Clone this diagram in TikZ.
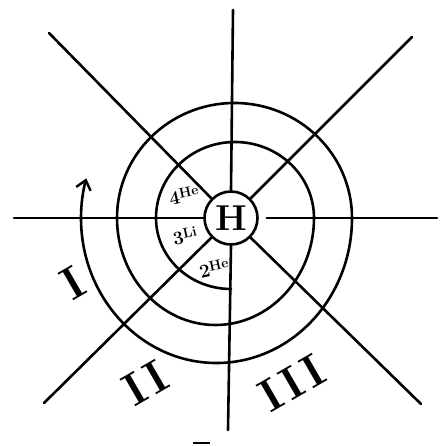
\documentclass[tikz,border=0pt]{standalone}
\usepackage{tikz}
\usetikzlibrary{arrows.meta}
\newcommand{\elsym}[2]{#1\raisebox{5pt}{\fontsize{14}{14}\selectfont #2}}
\tikzset{
  ln/.style   ={line width=2.6pt, line cap=round},
  spir/.style ={ln, -{Straight Barb[length=9pt,width=15pt,line width=2.4pt]}},
  elm/.style  ={font=\fontsize{19}{19}\selectfont\bfseries, inner sep=1pt, rotate=12},
  rom/.style  ={font=\fontsize{46}{46}\selectfont\bfseries, rotate=30, inner sep=0pt},
}

\begin{document}
\begin{tikzpicture}[x=1pt,y=1pt]
\useasboundingbox (-231,-228) rectangle (210,218);
\node[draw, ln, circle, minimum size=53pt, inner sep=0pt,
      font=\fontsize{36}{36}\selectfont\bfseries] (hyd) at (0,0) {H};
% ends of the eight rays
\coordinate (wE)  at (-217,0);
\coordinate (eE)  at (206,0);
\coordinate (nE)  at (2,208);
\coordinate (sE)  at (-3,-212);
\coordinate (nwE) at (-182,185);
\coordinate (neE) at (181,181);
\coordinate (swE) at (-187,-185);
\coordinate (seE) at (190,-186);
\draw[ln] (wE) -- (hyd.west);
\draw[ln, shorten <=8pt] (hyd.east) -- (eE);
\draw[ln] (nE) -- (hyd.north);
\draw[ln] (hyd.south) -- (sE);
\draw[ln] (nwE) -- (hyd.north west);
\draw[ln] (neE) -- (hyd.north east);
\draw[ln] (hyd.south west) -- (swE);
\draw[ln] (hyd.south east) -- (seE);
% spiral
\draw[spir] (0,-71)
  arc[start angle=-90, end angle=-180, x radius=75, y radius=71]
  arc[start angle=180, end angle=0, x radius=79, y radius=76]
  arc[start angle=0, end angle=-180, x radius=98.5, y radius=107]
  arc[start angle=180, end angle=0, x radius=117.5, y radius=115]
  arc[start angle=0, end angle=-180, x radius=135.5, y radius=145]
  arc[start angle=180, end angle=165, x radius=155, y radius=153];
% sector labels
\node[elm] (be) at (-47,23)  {\elsym{4}{He}};
\node[elm] (li) at (-46,-18) {\elsym{3}{Li}};
\node[elm] (he) at (-17,-50) {\elsym{2}{He}};
\node[rom] (r1) at (-158,-65) {I};
\node[rom] (r2) at (-86,-165) {I\kern5pt I};
\node[rom] (r3) at (61,-165)  {I\kern5pt I\kern5pt I};
\draw[line width=2pt] (-38,-225) -- (-21,-225);
\end{tikzpicture}
\end{document}
